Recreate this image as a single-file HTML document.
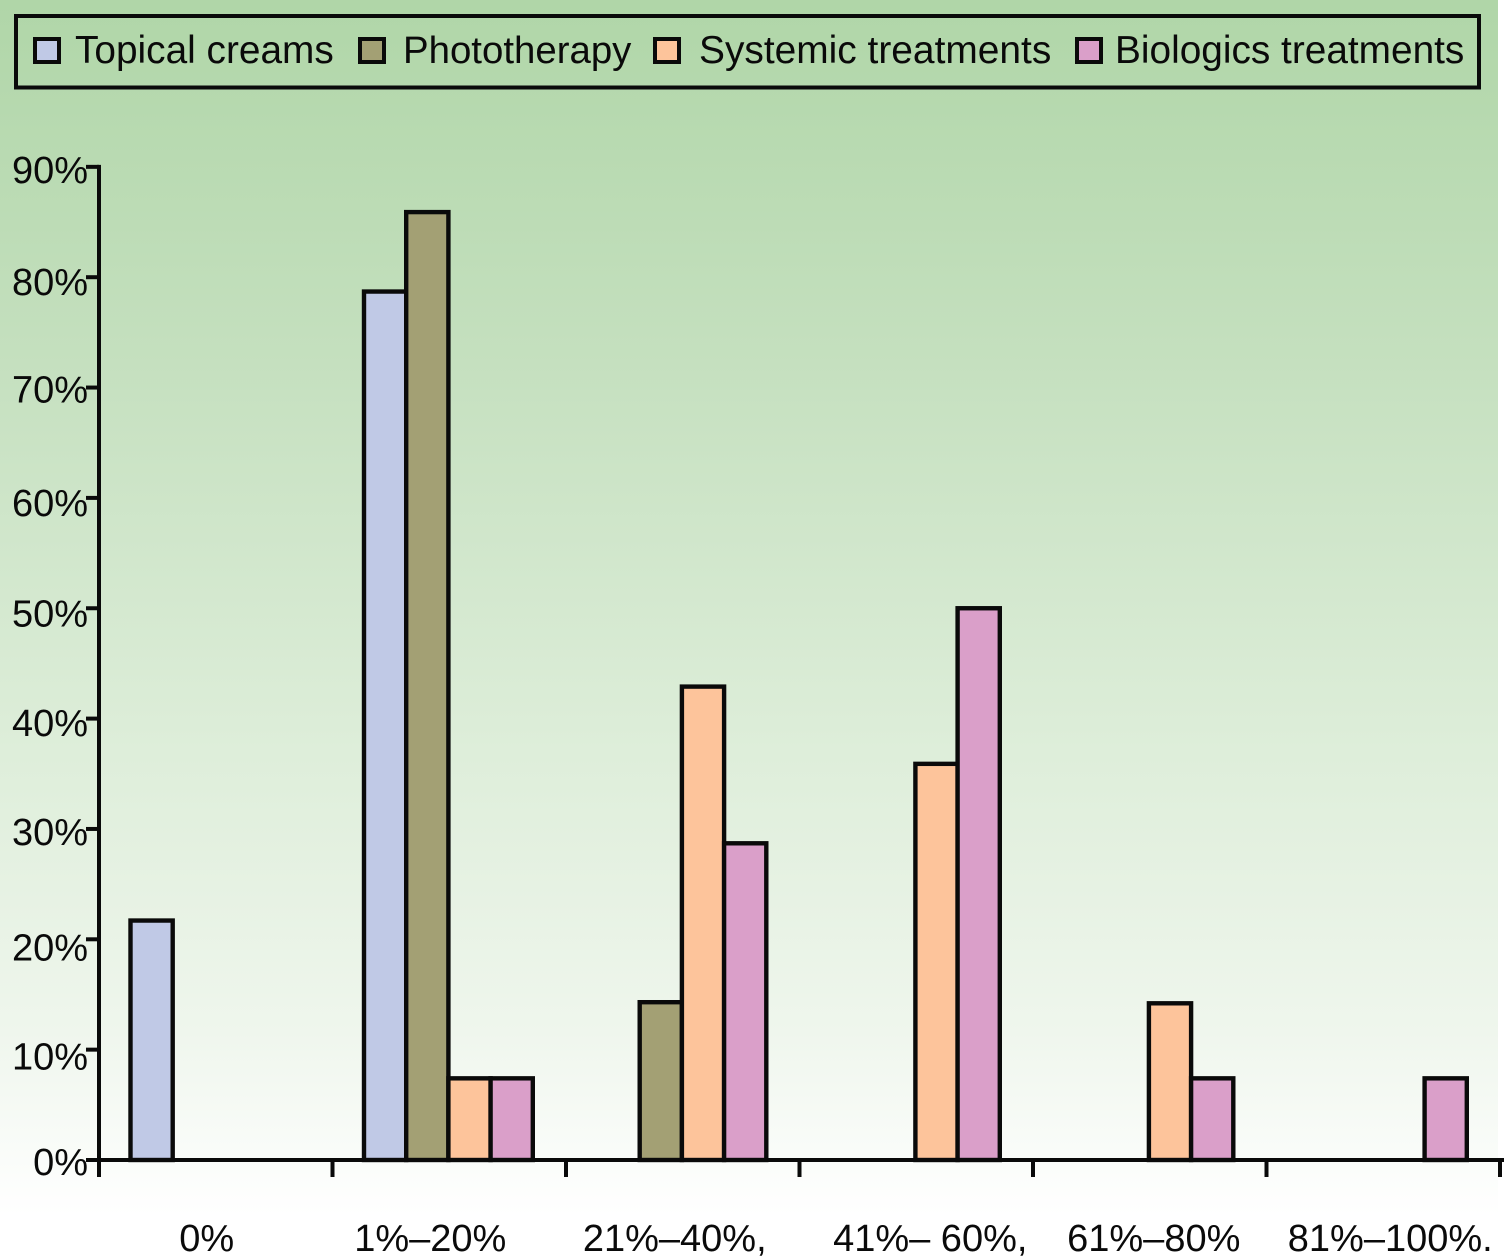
<!DOCTYPE html>
<html lang="en">
<head>
<meta charset="utf-8">
<title>Treatment response chart</title>
<style>
html,body{margin:0;padding:0;background:#fff;width:1504px;height:1260px;overflow:hidden}
svg{display:block}
text{font-family:"Liberation Sans",sans-serif;fill:#0a0a0a}
</style>
</head>
<body>
<svg id="chart" xmlns="http://www.w3.org/2000/svg" width="1504" height="1260" viewBox="0 0 1504 1260">
  <defs>
    <linearGradient id="bg" x1="0" y1="0" x2="0" y2="1">
      <stop offset="0" stop-color="#b0d6a8"/>
      <stop offset="0.3" stop-color="#c5e0bf"/>
      <stop offset="0.62" stop-color="#deeeda"/>
      <stop offset="0.85" stop-color="#eff6ed"/>
      <stop offset="1" stop-color="#ffffff"/>
    </linearGradient>
  </defs>
  <rect x="0" y="0" width="1498" height="1215" fill="url(#bg)"/>
  <g>
    <rect x="16" y="16" width="1463" height="71.5" fill="none" stroke="#0a0a0a" stroke-width="4"/>
    <g>
      <rect x="35" y="39" width="24" height="23" fill="#c0c9e6" stroke="#0a0a0a" stroke-width="4"/>
      <text x="75" y="63" font-size="38.8">Topical creams</text>
    </g>
    <g>
      <rect x="360" y="39" width="24" height="23" fill="#a3a074" stroke="#0a0a0a" stroke-width="4"/>
      <text x="403" y="63" font-size="38.4">Phototherapy</text>
    </g>
    <g>
      <rect x="655" y="39" width="24" height="23" fill="#fdc49b" stroke="#0a0a0a" stroke-width="4"/>
      <text x="699" y="63" font-size="38.9">Systemic treatments</text>
    </g>
    <g>
      <rect x="1077" y="39" width="24" height="23" fill="#da9fc9" stroke="#0a0a0a" stroke-width="4"/>
      <text x="1115" y="63" font-size="38.8">Biologics treatments</text>
    </g>
  </g>
  <g id="bars"></g>
  <g id="axes"></g>
</svg>
<script>
const categories = ['0%', '1%\u201320%', '21%\u201340%,', '41%\u2013 60%,', '61%\u201380%', '81%\u2013100%.'];
const topicalCreams = [21.7, 78.7, 0, 0, 0, 0];
const phototherapy = [0, 85.9, 14.3, 0, 0, 0];
const systemicTreatments = [0, 7.4, 42.9, 35.9, 14.2, 0];
const biologicsTreatments = [0, 7.4, 28.7, 50, 7.4, 7.4];
const yTickValues = [0, 10, 20, 30, 40, 50, 60, 70, 80, 90];
const yTickLabels = ['0%', '10%', '20%', '30%', '40%', '50%', '60%', '70%', '80%', '90%'];

const NS = 'http://www.w3.org/2000/svg';
const INK = '#0a0a0a';
const plotLeft = 99, plotRight = 1500, baseY = 1160, pxPerPercent = 11.035;
const groupStep = (plotRight - plotLeft) / categories.length;
const barWidth = 42.2, groupInset = 31.5;
// Hand-set label offsets from the reference's typesetting
const xLabelNudge = [-9, -19, -8, 14, 4, 7];
const yLabelNudge = [15, 20, 21, 16, 17.5, 18, 18, 15, 18, 16];

function yScale(v) { return baseY - v * pxPerPercent; }
function xTick(i) { return plotLeft + i * groupStep; }
function xBar(groupIndex, seriesIndex) { return xTick(groupIndex) + groupInset + seriesIndex * barWidth; }

function make(tag, attrs, parent) {
  const el = document.createElementNS(NS, tag);
  for (const k in attrs) el.setAttribute(k, attrs[k]);
  parent.appendChild(el);
  return el;
}

const seriesList = [
  { key: 'topical-creams', values: topicalCreams, color: '#c0c9e6' },
  { key: 'phototherapy', values: phototherapy, color: '#a3a074' },
  { key: 'systemic-treatments', values: systemicTreatments, color: '#fdc49b' },
  { key: 'biologics-treatments', values: biologicsTreatments, color: '#da9fc9' }
];

const barsGroup = document.getElementById('bars');
seriesList.forEach(function (series, s) {
  series.values.forEach(function (value, g) {
    const bar = make('rect', {
      x: xBar(g, s),
      y: yScale(value),
      width: barWidth,
      height: baseY - yScale(value),
      fill: series.color,
      stroke: INK,
      'stroke-width': 4.4
    }, barsGroup);
    
    
  });
});

const axesGroup = document.getElementById('axes');
const yAxisLine = make('line', { x1: plotLeft, y1: yScale(90) - 2, x2: plotLeft, y2: 1177, stroke: INK, 'stroke-width': 4 }, axesGroup);


const xAxisLine = make('line', { x1: 86, y1: baseY, x2: 1504, y2: baseY, stroke: INK, 'stroke-width': 4 }, axesGroup);



yTickValues.forEach(function (v, i) {
  const tick = make('line', { x1: 86, y1: yScale(v), x2: plotLeft, y2: yScale(v), stroke: INK, 'stroke-width': 4 }, axesGroup);
  
  
  const label = make('text', { x: 88, y: yScale(v) + yLabelNudge[i], 'text-anchor': 'end', 'font-size': 38 }, axesGroup);
  label.textContent = yTickLabels[i];
  
  
});

for (let i = 1; i <= categories.length; i++) {
  const tick = make('line', { x1: xTick(i), y1: baseY, x2: xTick(i), y2: 1177, stroke: INK, 'stroke-width': 4 }, axesGroup);
  
  
}

categories.forEach(function (name, i) {
  const label = make('text', { x: xTick(i) + groupStep / 2 + xLabelNudge[i], y: 1251, 'text-anchor': 'middle', 'font-size': 38 }, axesGroup);
  label.textContent = name;
  
  
});
</script>
</body>
</html>
